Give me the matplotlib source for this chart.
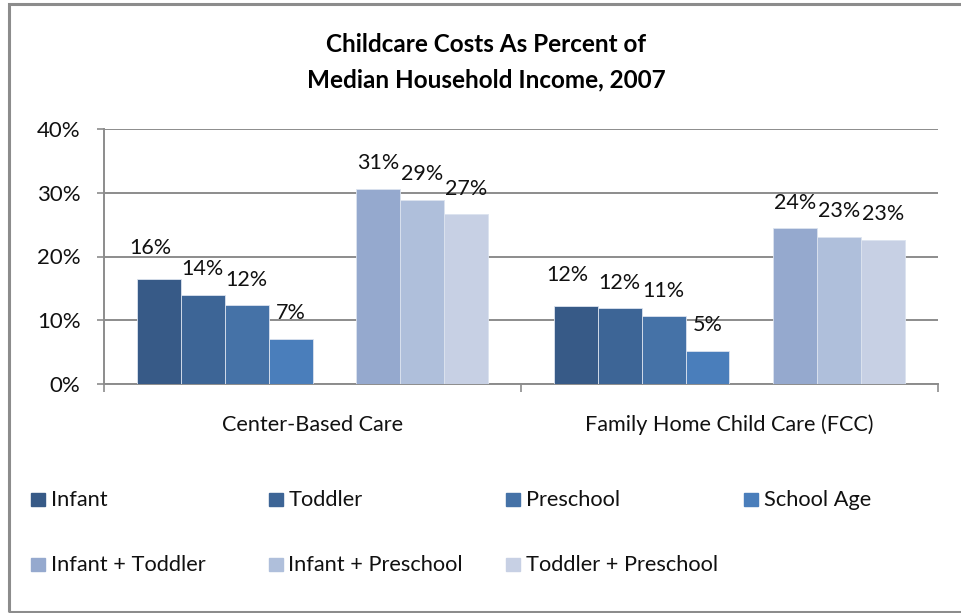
import matplotlib.pyplot as plt
from matplotlib.patches import Rectangle

plt.rcParams['font.family'] = ['Lato', 'DejaVu Sans']

categories = ['Center-Based Care', 'Family Home Child Care (FCC)']
series = ['Infant', 'Toddler', 'Preschool', 'School Age',
          'Infant + Toddler', 'Infant + Preschool', 'Toddler + Preschool']
values = [
    [16.4, 12.3],   # Infant
    [14.0, 11.9],   # Toddler
    [12.4, 10.6],   # Preschool
    [7.1, 5.2],     # School Age
    [30.6, 24.4],   # Infant + Toddler
    [28.9, 23.1],   # Infant + Preschool
    [26.6, 22.6],   # Toddler + Preschool
]
colors = ['#375A87', '#3D6596', '#4572A7', '#4A7EBB',
          '#95A9CE', '#AFBFDB', '#C7D0E4']
slots = [0, 1, 2, 3, 5, 6, 7]   # slot 4 stays empty
yticks = [0, 10, 20, 30, 40]

W, H = 961, 613
def fx(px):
    return px / W
def fy(py):
    return 1 - py / H

fig = plt.figure(figsize=(W / 100, H / 100), dpi=100)
ax = fig.add_axes([fx(104), fy(384), fx(938) - fx(104), fy(129) - fy(384)])

group = 0.844
w = group / 8
for i, name in enumerate(series):
    # Excel nudged the first label of each group up and to the left
    dx, dy = (-6, 18) if i == 0 else (0, 14)
    for c in range(len(categories)):
        x = c - group / 2 + w * (slots[i] + 0.5)
        v = values[i][c]
        ax.bar(x, v, w, color=colors[i], edgecolor='#DCE3EF', linewidth=0.6, zorder=3)
        ax.annotate('%.0f%%' % v, (x, v), xytext=(dx, dy), textcoords='offset points',
                    ha='center', va='baseline', fontsize=15.5, color='#111111', zorder=4)

ax.set_xlim(-0.5, 1.5)
ax.set_ylim(0, 40)
ax.set_yticks(yticks)
ax.set_yticklabels(['%d%%' % t for t in yticks], fontsize=16, color='#111111')
ax.yaxis.grid(True, color='#8C8C8C', linewidth=1.4, zorder=0)
ax.set_axisbelow(True)
ax.tick_params(axis='y', length=5, color='#8C8C8C', width=1.2, pad=12)

ax.set_xticks([-0.5, 0.5, 1.5])
ax.set_xticklabels([])
ax.tick_params(axis='x', length=6, color='#8C8C8C', width=1.2)
for c, name in enumerate(categories):
    ax.text(c, -7.35, name, ha='center', va='baseline', fontsize=15.6, color='#111111')

for s in ['top', 'right']:
    ax.spines[s].set_visible(False)
for s in ['left', 'bottom']:
    ax.spines[s].set_color('#8C8C8C')
    ax.spines[s].set_linewidth(1.4)

fig.text(fx(486), fy(52), 'Childcare Costs As Percent of',
         ha='center', va='baseline', fontsize=17.5, fontweight='bold')
fig.text(fx(486), fy(87), 'Median Household Income, 2007',
         ha='center', va='baseline', fontsize=17.5, fontweight='bold')

# legend laid out in a 4-column grid
for i, name in enumerate(series):
    row, col = divmod(i, 4)
    lx = 31 + col * 237.5
    base = 506 + row * 65
    fig.patches.append(Rectangle((fx(lx), fy(base)), 14 / W, 13 / H,
                                 transform=fig.transFigure, color=colors[i]))
    fig.text(fx(lx + 20), fy(base), name, ha='left', va='baseline',
             fontsize=15.7, color='#111111')

fig.patches.append(Rectangle((fx(9), fy(612)), fx(970) - fx(9), fy(4) - fy(612),
                             transform=fig.transFigure, fill=False,
                             edgecolor='#8C8C8C', linewidth=2.2))

fig.savefig('out.png', dpi=100)
